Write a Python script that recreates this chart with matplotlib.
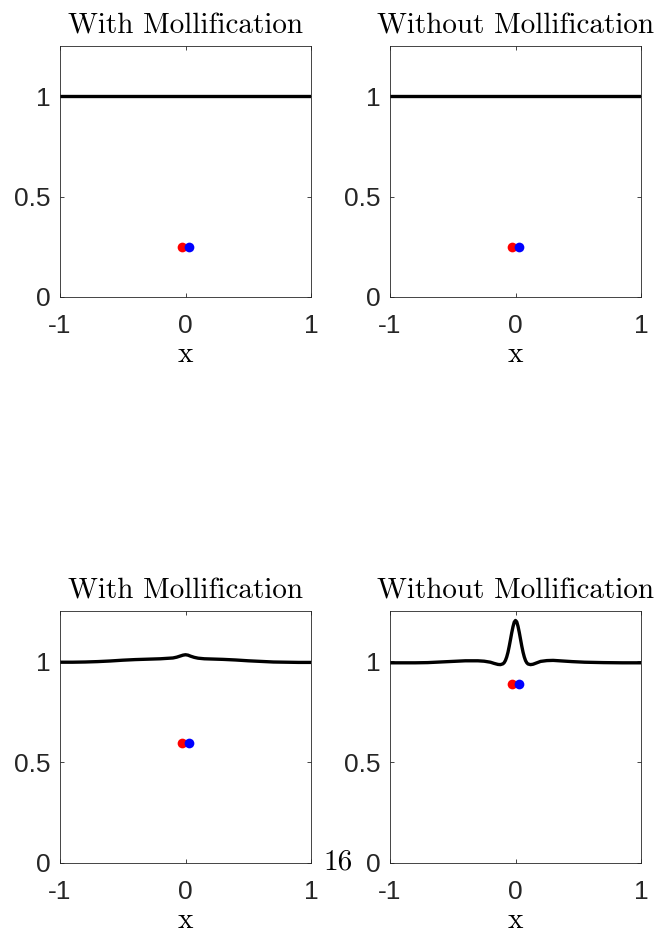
import numpy as np
import matplotlib
matplotlib.use("Agg")
import matplotlib.pyplot as plt


# ==================================
# DATA
# ==================================

titles = ["With Mollification", "Without Mollification",
          "With Mollification", "Without Mollification"]

x_ticks = [-1, 0, 1]
x_tick_labels = ["-1", "0", "1"]
y_ticks = [0, 0.5, 1]
y_tick_labels = ["0", "0.5", "1"]

# flat profile (top row)
x_flat = [-1.0, 1.0]
y_flat = [1.0, 1.0]

# mollified profile (bottom left)
x_moll = [-1.0, -0.9, -0.8, -0.7, -0.6, -0.5, -0.4, -0.3, -0.2, -0.15,
          -0.1, -0.07, -0.04, -0.02, 0.0, 0.02, 0.04, 0.07, 0.1, 0.15,
          0.2, 0.3, 0.4, 0.5, 0.6, 0.7, 0.8, 0.9, 1.0]
y_moll = [0.996, 0.996, 0.997, 0.999, 1.002, 1.006, 1.009, 1.011, 1.013, 1.015,
          1.017, 1.021, 1.027, 1.031, 1.033, 1.031, 1.026, 1.020, 1.016, 1.013,
          1.012, 1.010, 1.007, 1.003, 1.000, 0.997, 0.996, 0.995, 0.995]

# raw profile (bottom right)
x_raw = [-1.0, -0.9, -0.8, -0.7, -0.6, -0.5, -0.4, -0.3, -0.25, -0.2,
         -0.17, -0.14, -0.12, -0.1, -0.09, -0.08, -0.07, -0.06, -0.05, -0.04,
         -0.03, -0.02, -0.01, 0.0, 0.01, 0.02, 0.03, 0.04, 0.05, 0.06,
         0.07, 0.08, 0.09, 0.1, 0.12, 0.14, 0.17, 0.2, 0.25, 0.3,
         0.35, 0.45, 0.55, 0.7, 0.85, 1.0]
y_raw = [0.993, 0.993, 0.993, 0.994, 0.997, 1.000, 1.003, 1.003, 1.001, 0.996,
         0.990, 0.985, 0.984, 0.988, 0.994, 1.005, 1.022, 1.045, 1.075, 1.108,
         1.142, 1.172, 1.195, 1.203, 1.196, 1.174, 1.144, 1.110, 1.076, 1.046,
         1.022, 1.004, 0.993, 0.987, 0.984, 0.986, 0.993, 1.000, 1.004, 1.005,
         1.003, 0.999, 0.996, 0.994, 0.993, 0.993]

curves_x = [x_flat, x_flat, x_moll, x_raw]
curves_y = [y_flat, y_flat, y_moll, y_raw]

# particle positions
red_x = [-0.025, -0.025, -0.025, -0.025]
blue_x = [0.025, 0.025, 0.025, 0.025]
dot_y = [0.25, 0.25, 0.595, 0.888]


# ==================================
# FIGURE
# ==================================

plt.rcParams["axes.unicode_minus"] = False
plt.rcParams["font.family"] = ["Liberation Sans", "DejaVu Sans"]

fig = plt.figure(figsize=(6.58, 9.36), dpi=100)

W, H = 658.0, 936.0
boxes = [
    (60, 46, 251, 251),
    (390, 46, 251, 251),
    (60, 611, 251, 252),
    (390, 611, 251, 252),
]

axis_gray = (0.15, 0.15, 0.15)

for i, (l, t, w, h) in enumerate(boxes):
    ax = fig.add_axes([l / W, 1 - (t + h) / H, w / W, h / H])

    ax.plot(curves_x[i], curves_y[i], color="black", lw=2.4,
            solid_joinstyle="round", zorder=2)
    ax.plot(red_x[i], dot_y[i], "o", color="red", ms=7,
            mec="none", zorder=3)
    ax.plot(blue_x[i], dot_y[i], "o", color="blue", ms=7,
            mec="none", zorder=4)

    ax.set_xlim(-1, 1)
    ax.set_ylim(0, 1.25)
    ax.set_xticks(x_ticks)
    ax.set_xticklabels(x_tick_labels)
    ax.set_yticks(y_ticks)
    ax.set_yticklabels(y_tick_labels)

    ax.tick_params(direction="in", length=3, width=0.6,
                   top=True, right=True, colors=axis_gray,
                   labelsize=19)
    ax.tick_params(axis="x", pad=12)
    ax.tick_params(axis="y", pad=7)
    for s in ax.spines.values():
        s.set_color(axis_gray)
        s.set_linewidth(0.6)

    ax.set_title(titles[i], fontfamily="cmr10", fontsize=21, pad=9)
    ax.set_xlabel("x", fontfamily="cmr10", fontsize=21, labelpad=3)

# page number
fig.text(323 / W, 1 - 870 / H, "16", fontfamily="cmr10", fontsize=21,
         ha="left", va="baseline")

fig.savefig("out.png", dpi=100, facecolor="white")
